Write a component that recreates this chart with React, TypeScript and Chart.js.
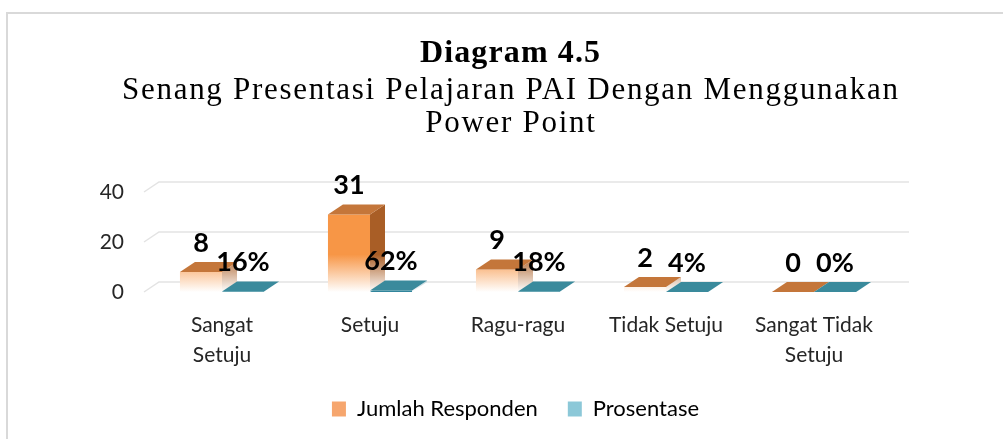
import React, { useEffect, useRef } from 'react';
import { Chart, registerables } from 'chart.js';

Chart.register(...registerables);

const categories: (string | string[])[] = [['Sangat', 'Setuju'], 'Setuju', 'Ragu-ragu', 'Tidak Setuju', ['Sangat Tidak', 'Setuju']];
const jumlahResponden = [8, 31, 9, 2, 0];
const prosentase = [0.16, 0.62, 0.18, 0.04, 0];
const seriesNames = ['Jumlah Responden', 'Prosentase'];
const titleText = 'Diagram 4.5';
const subtitleLines = ['Senang Presentasi Pelajaran PAI Dengan Menggunakan', 'Power Point'];
const yMin = 0;
const yMax = 40;
const yStep = 20;

const DX = 15;
const DY = 10;
const W = 1003;
const H = 439;

const ORANGE = '#F79646';
const ORANGE_TOP = '#C4763A';
const ORANGE_SIDE = '#A95E26';
const TEAL = '#31859C';
const TEAL_TOP = '#3A8A9C';
const TEAL_SIDE = '#2A6F80';

function fadeGradient(ctx: CanvasRenderingContext2D, chart: any, color: string) {
  const y = chart.scales.y;
  const y0 = y.getPixelForValue(0);
  const y1 = y.getPixelForValue(15);
  const g = ctx.createLinearGradient(0, y1, 0, y0);
  g.addColorStop(0, color);
  g.addColorStop(1, 'rgba(255,255,255,1)');
  return g;
}

function drawSpaced(ctx: CanvasRenderingContext2D, text: string, cx: number, baseline: number, font: string, targetWidth: number) {
  ctx.font = font;
  (ctx as any).letterSpacing = '0px';
  const w = ctx.measureText(text).width;
  const n = text.length;
  const sp = n > 1 ? (targetWidth - w) / (n - 1) : 0;
  (ctx as any).letterSpacing = sp + 'px';
  ctx.textAlign = 'left';
  ctx.textBaseline = 'alphabetic';
  ctx.fillText(text, cx - targetWidth / 2, baseline);
  (ctx as any).letterSpacing = '0px';
  return sp;
}

const framePlugin = {
  id: 'frameTitle',
  beforeDraw(chart: any) {
    const ctx = chart.ctx as CanvasRenderingContext2D;
    ctx.save();
    ctx.fillStyle = '#ffffff';
    ctx.fillRect(0, 0, W, H);
    ctx.strokeStyle = '#D9D9D9';
    ctx.lineWidth = 2;
    ctx.beginPath();
    ctx.moveTo(7, H + 2);
    ctx.lineTo(7, 13);
    ctx.lineTo(W + 2, 13);
    ctx.stroke();

    ctx.fillStyle = '#000000';
    drawSpaced(ctx, titleText, 510, 62, 'bold 32px "Liberation Serif"', 180);
    ctx.font = '31px "Liberation Serif"';
    (ctx as any).letterSpacing = '0px';
    const w1 = ctx.measureText(subtitleLines[0]).width;
    const target1 = 776;
    const sp = (target1 - w1) / (subtitleLines[0].length - 1);
    (ctx as any).letterSpacing = sp + 'px';
    ctx.textAlign = 'left';
    ctx.fillText(subtitleLines[0], 510 - target1 / 2, 99);
    (ctx as any).letterSpacing = '0px';
    const w2 = ctx.measureText(subtitleLines[1]).width + sp * (subtitleLines[1].length - 1);
    (ctx as any).letterSpacing = sp + 'px';
    ctx.fillText(subtitleLines[1], 510 - w2 / 2, 132);
    (ctx as any).letterSpacing = '0px';
    ctx.restore();
  },
};

const gridPlugin = {
  id: 'grid3d',
  beforeDatasetsDraw(chart: any) {
    const ctx = chart.ctx as CanvasRenderingContext2D;
    const x = chart.scales.x;
    const y = chart.scales.y;
    ctx.save();
    ctx.strokeStyle = '#E3E3E3';
    ctx.lineWidth = 1.5;
    for (let v = yMin; v <= yMax; v += yStep) {
      const py = y.getPixelForValue(v);
      ctx.beginPath();
      ctx.moveTo(x.left - 4, py);
      ctx.lineTo(x.left - 4 + DX, py - DY);
      ctx.lineTo(x.right + DX + 6, py - DY);
      ctx.stroke();
    }
    ctx.restore();
  },
};

const bar3dPlugin = {
  id: 'bar3d',
  afterDatasetsDraw(chart: any) {
    const ctx = chart.ctx as CanvasRenderingContext2D;
    const tops = [ORANGE_TOP, TEAL_TOP];
    const sides = [ORANGE_SIDE, TEAL_SIDE];
    ctx.save();
    chart.data.datasets.forEach((ds: any, di: number) => {
      const meta = chart.getDatasetMeta(di);
      meta.data.forEach((el: any) => {
        const { x, y, base, width } = el.getProps(['x', 'y', 'base', 'width'], true);
        const l = x - width / 2;
        const r = x + width / 2;
        if (base - y > 0.5) {
          ctx.fillStyle = fadeGradient(ctx, chart, sides[di]);
          ctx.beginPath();
          ctx.moveTo(r, y);
          ctx.lineTo(r + DX, y - DY);
          ctx.lineTo(r + DX, base - DY);
          ctx.lineTo(r, base);
          ctx.closePath();
          ctx.fill();
        }
        ctx.fillStyle = tops[di];
        ctx.beginPath();
        ctx.moveTo(l, y);
        ctx.lineTo(l + DX, y - DY);
        ctx.lineTo(r + DX, y - DY);
        ctx.lineTo(r, y);
        ctx.closePath();
        ctx.fill();
      });
    });
    ctx.fillStyle = '#000000';
    ctx.font = 'bold 27px Lato';
    ctx.textAlign = 'center';
    ctx.textBaseline = 'middle';
    chart.data.datasets.forEach((ds: any, di: number) => {
      const meta = chart.getDatasetMeta(di);
      meta.data.forEach((el: any, i: number) => {
        const { x, y } = el.getProps(['x', 'y'], true);
        const v = ds.data[i];
        const txt = di === 0 ? String(v) : Math.round(v * 100) + '%';
        ctx.fillText(txt, x, y - 29);
      });
    });
    ctx.restore();
  },
};

export default function App() {
  const ref = useRef<HTMLCanvasElement | null>(null);
  useEffect(() => {
    if (!ref.current) return;
    const chart = new Chart(ref.current, {
      type: 'bar',
      data: {
        labels: categories as any,
        datasets: [
          {
            label: seriesNames[0],
            data: jumlahResponden,
            backgroundColor: (c: any) => {
              const ch = c.chart;
              if (!ch.chartArea) return ORANGE;
              return fadeGradient(ch.ctx, ch, ORANGE);
            },
            borderWidth: 0,
            barPercentage: 1,
            categoryPercentage: 0.568,
          },
          {
            label: seriesNames[1],
            data: prosentase,
            backgroundColor: TEAL,
            borderWidth: 0,
            barPercentage: 1,
            categoryPercentage: 0.568,
          },
        ],
      },
      options: {
        responsive: false,
        animation: false,
        layout: { padding: { top: 192, right: 0, left: 28, bottom: 9 } },
        scales: {
          x: {
            grid: { display: false, drawTicks: false },
            border: { display: false },
            ticks: {
              color: '#262626',
              font: { family: 'Lato', size: 21, lineHeight: 1.45 },
              padding: 18,
              maxRotation: 0,
              autoSkip: false,
            },
            afterFit: (s: any) => {
              s.height = 76;
            },
          },
          y: {
            min: yMin,
            max: yMax,
            grid: { display: false, drawTicks: false },
            border: { display: false },
            ticks: {
              stepSize: yStep,
              color: '#262626',
              font: { family: 'Lato', size: 21 },
              padding: 24,
            },
            afterFit: (s: any) => {
              s.width = 120;
            },
          },
          yRight: {
            position: 'right',
            display: true,
            grid: { display: false, drawTicks: false },
            border: { display: false },
            ticks: { display: false },
            afterFit: (s: any) => {
              s.width = 115;
            },
          },
        },
        plugins: {
          title: { display: false },
          tooltip: { enabled: false },
          legend: {
            position: 'bottom',
            labels: {
              color: '#262626',
              font: { family: 'Lato', size: 22 },
              boxWidth: 14,
              boxHeight: 15,
              padding: 30,
              generateLabels: () => [
                { text: seriesNames[0], fillStyle: '#F6A66E', strokeStyle: '#F6A66E', lineWidth: 0, hidden: false, datasetIndex: 0 },
                { text: seriesNames[1], fillStyle: '#8CC8D8', strokeStyle: '#8CC8D8', lineWidth: 0, hidden: false, datasetIndex: 1 },
              ],
            },
          },
        },
      },
      plugins: [framePlugin, gridPlugin, bar3dPlugin],
    });
    return () => chart.destroy();
  }, []);
  return (
    <div style={{ position: 'absolute', left: 0, top: 0, width: W, height: H }}>
      <canvas ref={ref} width={W} height={H} style={{ display: 'block' }} />
    </div>
  );
}
